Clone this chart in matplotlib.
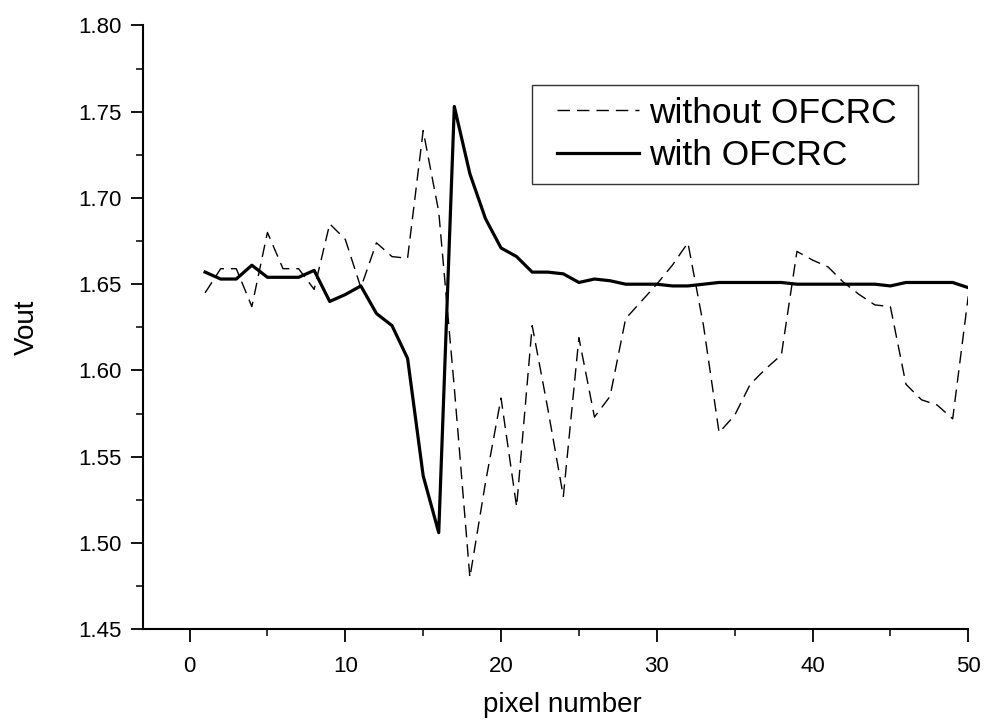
import matplotlib
matplotlib.use("Agg")
import matplotlib.pyplot as plt
from matplotlib.ticker import MultipleLocator, FormatStrFormatter
from matplotlib.legend_handler import HandlerLine2D

plt.rcParams['font.family'] = ['Liberation Sans', 'DejaVu Sans']

pixel = list(range(1, 51))

vout_without = [
    1.645, 1.659, 1.659, 1.637, 1.680, 1.659, 1.659, 1.647, 1.685, 1.676,
    1.648, 1.674, 1.666, 1.665, 1.739, 1.692, 1.590, 1.480, 1.535, 1.584,
    1.521, 1.626, 1.578, 1.527, 1.619, 1.573, 1.585, 1.630, 1.640, 1.650,
    1.661, 1.674, 1.626, 1.564, 1.574, 1.592, 1.601, 1.609, 1.669, 1.664,
    1.660, 1.651, 1.644, 1.638, 1.637, 1.592, 1.583, 1.580, 1.572, 1.643,
]

vout_with = [
    1.657, 1.653, 1.653, 1.661, 1.654, 1.654, 1.654, 1.658, 1.640, 1.644,
    1.649, 1.633, 1.626, 1.607, 1.539, 1.506, 1.753, 1.714, 1.688, 1.671,
    1.666, 1.657, 1.657, 1.656, 1.651, 1.653, 1.652, 1.650, 1.650, 1.650,
    1.649, 1.649, 1.650, 1.651, 1.651, 1.651, 1.651, 1.651, 1.650, 1.650,
    1.650, 1.650, 1.650, 1.650, 1.649, 1.651, 1.651, 1.651, 1.651, 1.648,
]

series_labels = ["without OFCRC", "with OFCRC"]

fig = plt.figure(figsize=(9.85, 7.25), dpi=100)
ax = fig.add_axes([0.145, 0.132, 0.838, 0.833])

ax.plot(pixel, vout_without, color="black", lw=1.0, ls=(0, (9, 5)))
ax.plot(pixel, vout_with, color="black", lw=2.3)

ax.set_xlim(-3, 50)
ax.set_ylim(1.45, 1.80)
ax.xaxis.set_major_locator(MultipleLocator(10))
ax.xaxis.set_minor_locator(MultipleLocator(5))
ax.yaxis.set_major_locator(MultipleLocator(0.05))
ax.yaxis.set_minor_locator(MultipleLocator(0.025))
ax.yaxis.set_major_formatter(FormatStrFormatter("%.2f"))

for side in ("top", "right"):
    ax.spines[side].set_visible(False)
for side in ("left", "bottom"):
    ax.spines[side].set_linewidth(1.5)

ax.tick_params(which="major", direction="out", length=9, width=1.3,
               labelsize=16)
ax.tick_params(axis="y", which="major", pad=6)
ax.tick_params(axis="x", which="major", pad=10)
ax.tick_params(which="minor", direction="out", length=5, width=1.1)

ax.set_xlabel("pixel number", fontsize=20)
ax.set_ylabel("Vout", fontsize=20)
ax.xaxis.set_label_coords(0.508, -0.103)
ax.yaxis.set_label_coords(-0.125, 0.5)

# line sample inset from the left edge of the box; a trailing space keeps
# some room after the longest label
handler = HandlerLine2D(xpad=0.4)
leg = ax.legend(ax.lines, [s + " " for s in series_labels],
                loc="upper left", bbox_to_anchor=(0.471, 0.901),
                fontsize=25.5, frameon=True, fancybox=False,
                handlelength=2.7, handletextpad=0.29, borderpad=0.33,
                labelspacing=0.27, borderaxespad=0,
                handler_map={ax.lines[0]: handler, ax.lines[1]: handler})
leg.get_frame().set_edgecolor("black")
leg.get_frame().set_linewidth(1.0)

fig.savefig("out.png", dpi=100)
